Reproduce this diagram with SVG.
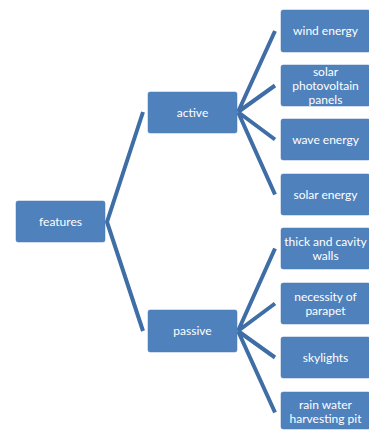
<svg xmlns="http://www.w3.org/2000/svg" width="369" height="430" viewBox="0 0 369 430">
<style>
.box{fill:#4f81bd;stroke:#4a7ab5;stroke-width:0.5}
.t{font-family:Lato,"Liberation Sans",sans-serif;font-size:12px;fill:#ffffff;text-anchor:middle}
.c{fill:none;stroke:#3f6ea6;stroke-width:4;stroke-linejoin:miter}
</style>
<rect width="369" height="430" fill="#ffffff"/>
<g id="connectors">
<polyline class="c" points="143,112 107,222 143,331"/>
<path class="c" d="M238,112 L275,31 M238,112 L275,85.5 M238,112 L275,139.5 M238,112 L275,194.5"/>
<path class="c" d="M238,331 L275,248.5 M238,331 L275,303.5 M238,331 L275,357.5 M238,331 L275,412.5"/>
</g>
<g id="features"><rect class="box" x="16" y="201" width="89" height="41" rx="2"/><text class="t" x="60.5" y="225.5">features</text></g>
<g id="active"><rect class="box" x="148" y="92" width="89" height="41" rx="2"/><text class="t" x="192.5" y="116.5">active</text></g>
<g id="passive"><rect class="box" x="148" y="310" width="89" height="42" rx="2"/><text class="t" x="192.5" y="335">passive</text></g>
<g id="wind"><rect class="box" x="281" y="10" width="89" height="42" rx="2"/><text class="t" x="325.5" y="35">wind energy</text></g>
<g id="pv"><rect class="box" x="281" y="65" width="89" height="41" rx="2"/><text class="t" x="325.5" y="75.5">solar</text><text class="t" x="325.5" y="89.5">photovoltain</text><text class="t" x="325.5" y="103.5">panels</text></g>
<g id="wave"><rect class="box" x="281" y="119" width="89" height="41" rx="2"/><text class="t" x="325.5" y="143.5">wave energy</text></g>
<g id="solar"><rect class="box" x="281" y="174" width="89" height="41" rx="2"/><text class="t" x="325.5" y="198.5">solar energy</text></g>
<g id="walls"><rect class="box" x="281" y="228" width="89" height="41" rx="2"/><text class="t" x="325.5" y="245.5">thick and cavity</text><text class="t" x="325.5" y="259.5">walls</text></g>
<g id="parapet"><rect class="box" x="281" y="283" width="89" height="41" rx="2"/><text class="t" x="325.5" y="300.5">necessity of</text><text class="t" x="325.5" y="314.5">parapet</text></g>
<g id="skylights"><rect class="box" x="281" y="337" width="89" height="41" rx="2"/><text class="t" x="325.5" y="361.5">skylights</text></g>
<g id="rain"><rect class="box" x="281" y="392" width="89" height="37" rx="2"/><text class="t" x="325.5" y="409">rain water</text><text class="t" x="325.5" y="423">harvesting pit</text></g>
</svg>
